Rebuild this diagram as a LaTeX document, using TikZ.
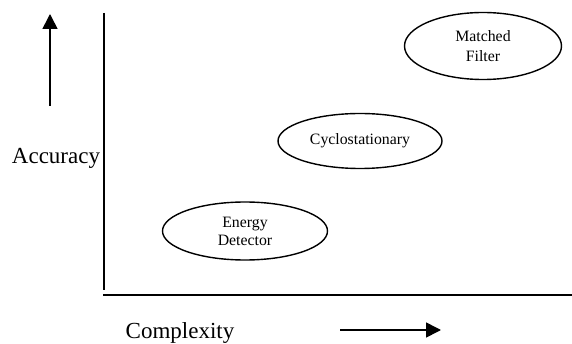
\documentclass[tikz,border=0pt]{standalone}
\usepackage{fontspec}
\setmainfont{Liberation Serif}
\usetikzlibrary{shapes.geometric,arrows.meta}
\begin{document}
\begin{tikzpicture}[x=1pt,y=-1pt,
  method/.style={ellipse,draw,line width=1.4pt,inner sep=0pt,align=center,font=\fontsize{15.8}{18}\selectfont},
  axis/.style={line width=1.6pt},
  dirarrow/.style={line width=1.6pt,-{Triangle[length=15pt,width=15pt]}},
  axislabel/.style={font=\fontsize{23}{26}\selectfont,inner sep=0pt}]
\useasboundingbox (0,0) rectangle (572,344);
% axes
\coordinate (ytop) at (104,13);
\coordinate (ybot) at (104,290);
\coordinate (xleft) at (103,295);
\coordinate (xright) at (572,295);
\draw[axis] (ytop) -- (ybot);
\draw[axis] (xleft) -- (xright);
% direction arrows
\coordinate (upS) at (50,106);
\coordinate (upE) at (50,14);
\draw[dirarrow] (upS) -- (upE);
\coordinate (rtS) at (340,330);
\coordinate (rtE) at (441,330);
\draw[dirarrow] (rtS) -- (rtE);
% labels
\node[axislabel] (acc) at (56,158) {Accuracy};
\node[axislabel] (cmp) at (180,333) {Complexity};
% methods
\node[method,minimum width=165pt,minimum height=58pt] (ed) at (245,231) {Energy\\Detector};
\node[method,minimum width=164pt,minimum height=55pt] (cy) at (360,141) {Cyclostationary};
\node[method,minimum width=157pt,minimum height=67pt,font=\fontsize{15.8}{20}\selectfont] (mf) at (483,46) {Matched\\Filter};
\end{tikzpicture}
\end{document}
